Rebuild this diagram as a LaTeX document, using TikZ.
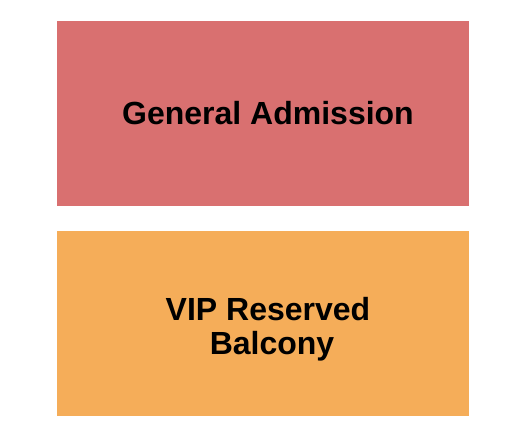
\documentclass[tikz,border=0pt]{standalone}
\usepackage{fontspec}
\setmainfont{Liberation Sans}
\usepackage{tikz}
\definecolor{gared}{rgb}{0.85, 0.44, 0.44}
\definecolor{viporange}{rgb}{0.96, 0.68, 0.35}
\begin{document}
\begin{tikzpicture}[x=1pt, y=-1pt,
        section/.style={rectangle, inner sep=0pt, minimum width=412pt, minimum height=185pt},
        seclabel/.style={font=\fontsize{32}{34}\selectfont\bfseries, align=center, inner sep=0pt}
    ]
        \useasboundingbox (0,0) rectangle (525,444);
        \node[section, fill=gared] (ga) at (263,113.5) {};
        \node[section, fill=viporange] (vip) at (263,323) {};
        \node[seclabel, xshift=5pt] (galabel) at (ga.center) {General Admission};
        \node[seclabel, xshift=5pt, yshift=-6pt] (viplabel) at (vip.center) {VIP Reserved\\\hspace*{8pt}Balcony};
    \end{tikzpicture}
\end{document}
